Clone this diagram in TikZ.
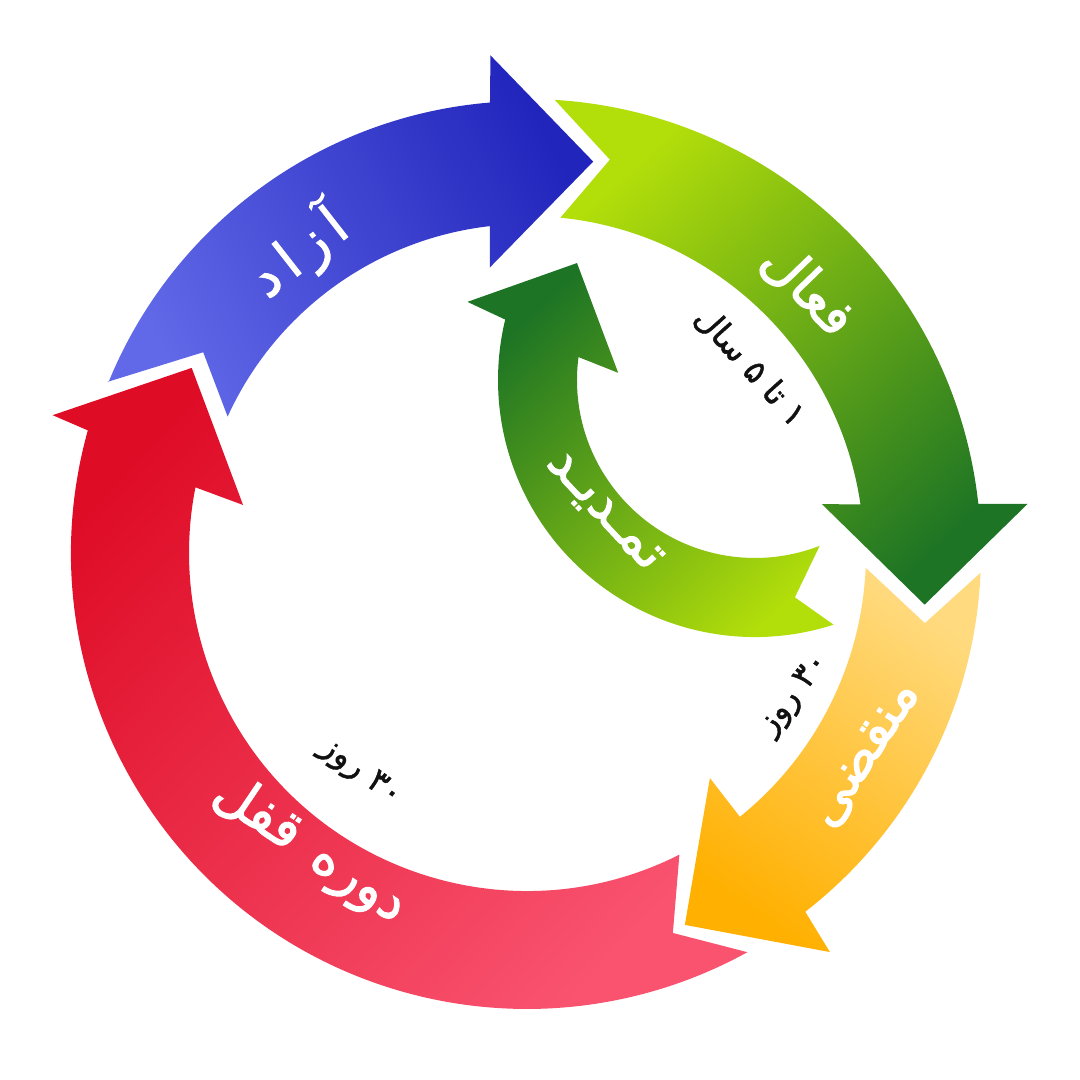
\documentclass[tikz,border=0pt]{standalone}
\usepackage{fontspec}
\newfontfamily\farsiBold[Script=Arabic, FakeBold=1.8]{DejaVu Sans}
\newfontfamily\farsiMed[Script=Arabic, FakeBold=1.2]{DejaVu Sans}
\TeXXeTstate=1
\definecolor{bluL}{HTML}{6169E8}
\definecolor{bluD}{HTML}{2225BC}
\definecolor{grnL}{HTML}{B2DE0A}
\definecolor{grnD}{HTML}{1D7424}
\definecolor{yelL}{HTML}{FFDA7E}
\definecolor{yelD}{HTML}{FFB000}
\definecolor{redL}{HTML}{F95370}
\definecolor{redD}{HTML}{DF0C26}
\definecolor{txtD}{HTML}{111111}
\tikzset{
  lbl/.style={text=white, font=\farsiBold\fontsize{54}{60}\selectfont, inner sep=0pt},
  sublbl/.style={text=txtD, font=\farsiMed\fontsize{33}{38}\selectfont, inner sep=0pt},
}
\begin{document}
\begin{tikzpicture}[x=1pt,y=1pt]
\useasboundingbox (0,0) rectangle (1080,1080);
\fill[white] (0,0) rectangle (1080,1080);
% outer ring, centre (527,527)
\begin{scope}[shift={(527,527)}]
  % blue (free)
  \shade[top color=bluL, bottom color=bluD, shading angle=118]
    (157.8:453) -- (148.2:381) -- (155.5:329)
    arc[start angle=155.5, end angle=96.5, radius=329]
    -- (97.4:288) -- (80.4:397) -- (94.2:499) -- (94.7:452)
    arc[start angle=94.7, end angle=157.8, radius=452] -- cycle;
  % green (active)
  \shade[top color=grnL, bottom color=grnD, shading angle=43]
    (86.5:454) arc[start angle=86.5, end angle=6.2, radius=454]
    -- (5.6:503) -- (-7.4:401) -- (9.4:299) -- (8.3:337)
    arc[start angle=8.3, end angle=84.3, radius=337]
    -- (78.1:402) -- cycle;
  % yellow (expired)
  \shade[top color=yelL, bottom color=yelD, shading angle=-34]
    (-2.5:454) arc[start angle=-2.5, end angle=-52.2, radius=454]
    -- (-52.8:501) -- (-67:404) -- (-50.9:290) -- (-51.1:339)
    arc[start angle=-51.1, end angle=-2.5, radius=339]
    -- (-10:404) -- cycle;
  % red (lock period)
  \shade[top color=redL, bottom color=redD, shading angle=-133]
    (-61.1:456) -- (-69:407) -- (-63.2:338)
    arc[start angle=-63.2, end angle=-191.2, radius=338]
    -- (-189.6:288) -- (-208.9:383) -- (-196.2:494) -- (-195.6:456)
    arc[start angle=-195.6, end angle=-61.1, radius=456] -- cycle;
\end{scope}
% inner arrow (renewal), centre (755,700)
\begin{scope}[shift={(755,700)}]
  \shade[top color=grnL, bottom color=grnD, shading angle=-136]
    (-72.2:257) arc[start angle=-72.2, end angle=-193.6, radius=257]
    -- (-195.2:298) -- (-213.3:213) -- (-183:137) -- (-187.4:178)
    arc[start angle=-187.4, end angle=-68.7, radius=178]
    -- (-79.6:221) -- cycle;
\end{scope}
% labels
\node[lbl, rotate=38] (tAzad) at (298,828) {\beginR آ\,ز\,ا\,د\endR};
\node[lbl, rotate=-46] (tFaal) at (808,790) {\beginR فعال\endR};
\node[sublbl, rotate=-48] (tYears) at (750,713) {\beginR ۱ تا ۵ سال\endR};
\node[lbl, rotate=57] (tMonq) at (866,325) {\beginR منقضی\endR};
\node[sublbl, rotate=52] (tDaysA) at (795,385) {\beginR\beginL ۳۰\endL{} روز\endR};
\node[lbl, rotate=-47] (tTamdid) at (603,568) {\beginR تمـدیـد\endR};
\node[lbl, rotate=-34] (tQofl) at (310,230) {\beginR دوره\hspace{6pt} قفل\endR};
\node[sublbl, rotate=-37] (tDaysB) at (360,307) {\beginR\beginL ۳۰\endL{} روز\endR};
\end{tikzpicture}
\end{document}
